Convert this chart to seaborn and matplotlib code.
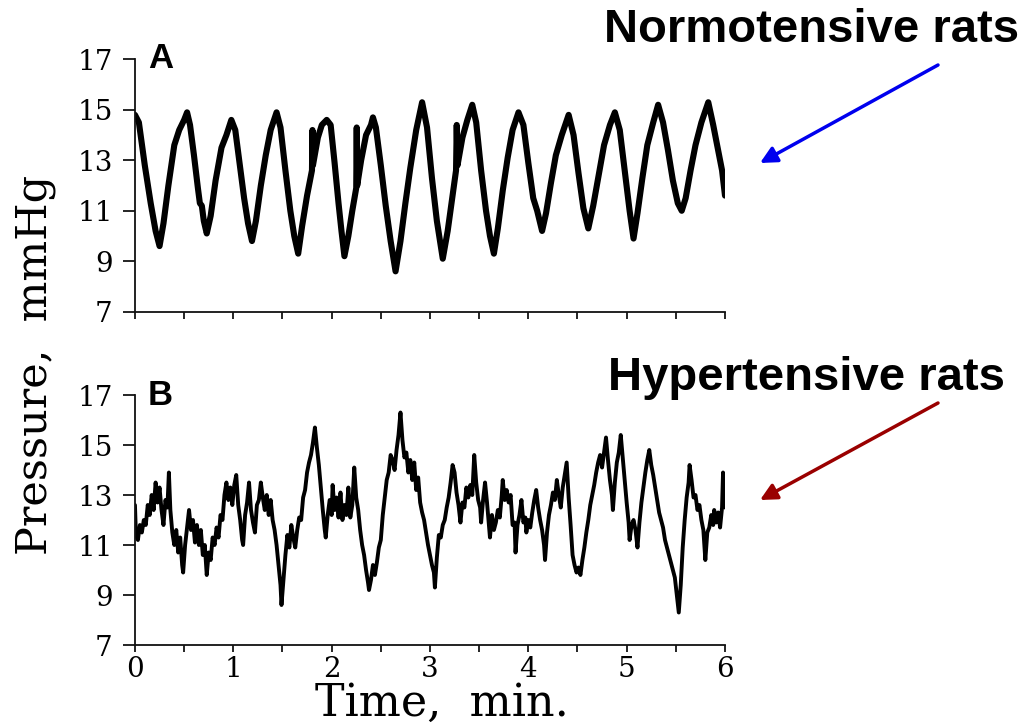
import numpy as np
import pandas as pd
import seaborn as sns
import matplotlib
matplotlib.use("Agg")
import matplotlib.pyplot as plt

# Panel A: normotensive rats, pressure (mmHg) vs time (min)
time_a = [0.00, 0.04, 0.10, 0.16, 0.21, 0.25, 0.29, 0.34, 0.40, 0.45, 0.50, 0.53, 0.56, 0.60,
          0.64, 0.66, 0.68, 0.70, 0.73, 0.77, 0.82, 0.88, 0.93, 0.98, 1.02, 1.06, 1.11, 1.15,
          1.19, 1.23, 1.28, 1.33, 1.38, 1.44, 1.48, 1.53, 1.58, 1.62, 1.66, 1.70, 1.75, 1.80,
          1.805, 1.81, 1.86, 1.90, 1.95, 1.99, 2.03, 2.07, 2.10, 2.13, 2.17, 2.21, 2.25, 2.255,
          2.26, 2.30, 2.35, 2.40, 2.42, 2.45, 2.50, 2.55, 2.60, 2.65, 2.70, 2.75, 2.80, 2.86,
          2.92, 2.97, 3.02, 3.07, 3.13, 3.18, 3.23, 3.265, 3.272, 3.28, 3.33, 3.38, 3.43, 3.47,
          3.52, 3.57, 3.61, 3.65, 3.69, 3.74, 3.79, 3.84, 3.90, 3.95, 4.00, 4.05, 4.09, 4.14,
          4.18, 4.23, 4.28, 4.34, 4.41, 4.46, 4.51, 4.56, 4.61, 4.66, 4.71, 4.77, 4.83, 4.88,
          4.93, 4.98, 5.03, 5.07, 5.11, 5.16, 5.21, 5.27, 5.32, 5.37, 5.42, 5.47, 5.52, 5.56,
          5.60, 5.65, 5.70, 5.76, 5.83, 5.88, 5.93, 5.97, 6.00]
pressure_a = [14.8, 14.5, 12.8, 11.3, 10.2, 9.6, 10.5, 12.0, 13.6, 14.2, 14.6, 14.9, 14.4, 13.2,
              11.9, 11.3, 11.2, 10.6, 10.1, 10.8, 12.2, 13.5, 14.0, 14.6, 14.2, 13.0, 11.5, 10.5,
              9.8, 10.6, 12.0, 13.2, 14.2, 14.9, 14.3, 12.6, 11.0, 10.0, 9.3, 10.4, 11.6, 12.6,
              14.2, 12.8, 13.9, 14.4, 14.6, 14.4, 12.9, 11.3, 10.2, 9.2, 10.0, 11.0, 11.9, 14.3,
              12.0, 13.0, 14.0, 14.4, 14.7, 14.3, 12.8, 11.2, 9.8, 8.6, 9.8, 11.3, 12.7, 14.2,
              15.3, 14.3, 12.3, 10.6, 9.1, 10.2, 11.6, 12.6, 14.4, 12.8, 13.9, 14.6, 15.2, 14.5,
              12.6, 11.0, 10.0, 9.3, 10.3, 11.8, 13.1, 14.2, 14.9, 14.4, 12.9, 11.5, 11.0, 10.2,
              10.9, 12.1, 13.2, 14.0, 14.8, 14.0, 12.5, 11.1, 10.3, 11.2, 12.3, 13.6, 14.4, 14.9,
              14.2, 12.6, 11.0, 9.9, 10.9, 12.3, 13.6, 14.5, 15.2, 14.5, 13.4, 12.2, 11.3, 11.0,
              11.5, 12.6, 13.6, 14.5, 15.3, 14.4, 13.4, 12.6, 11.6]

# Panel B: hypertensive rats
time_b = [0.00, 0.01, 0.03, 0.05, 0.07, 0.09, 0.11, 0.13, 0.15, 0.17, 0.19, 0.21, 0.23, 0.25,
          0.27, 0.29, 0.31, 0.33, 0.345, 0.36, 0.38, 0.40, 0.42, 0.44, 0.46, 0.48, 0.49, 0.51,
          0.53, 0.55, 0.57, 0.59, 0.61, 0.63, 0.65, 0.67, 0.69, 0.71, 0.73, 0.75, 0.77, 0.79,
          0.81, 0.83, 0.85, 0.87, 0.89, 0.91, 0.93, 0.95, 0.97, 0.99, 1.01, 1.03, 1.05, 1.07,
          1.09, 1.10, 1.12, 1.14, 1.16, 1.18, 1.20, 1.22, 1.24, 1.26, 1.28, 1.30, 1.32, 1.34,
          1.36, 1.38, 1.40, 1.42, 1.44, 1.46, 1.48, 1.49, 1.51, 1.53, 1.55, 1.57, 1.59, 1.61,
          1.63, 1.65, 1.67, 1.69, 1.71, 1.73, 1.75, 1.77, 1.79, 1.81, 1.83, 1.85, 1.87, 1.89,
          1.91, 1.93, 1.94, 1.96, 1.98, 2.00, 2.01, 2.03, 2.05, 2.07, 2.09, 2.11, 2.13, 2.15,
          2.17, 2.19, 2.21, 2.23, 2.25, 2.27, 2.29, 2.31, 2.33, 2.35, 2.37, 2.38, 2.40, 2.42,
          2.44, 2.46, 2.48, 2.50, 2.52, 2.54, 2.56, 2.58, 2.60, 2.62, 2.64, 2.66, 2.68, 2.70,
          2.72, 2.74, 2.76, 2.78, 2.80, 2.82, 2.84, 2.86, 2.88, 2.90, 2.92, 2.94, 2.96, 2.98,
          3.00, 3.02, 3.04, 3.05, 3.07, 3.09, 3.11, 3.13, 3.15, 3.17, 3.19, 3.21, 3.23, 3.25,
          3.27, 3.29, 3.31, 3.33, 3.35, 3.37, 3.39, 3.41, 3.43, 3.45, 3.47, 3.49, 3.51, 3.52,
          3.54, 3.56, 3.58, 3.60, 3.61, 3.63, 3.65, 3.67, 3.69, 3.71, 3.73, 3.74, 3.76, 3.78,
          3.80, 3.82, 3.84, 3.86, 3.87, 3.89, 3.91, 3.93, 3.95, 3.97, 3.98, 4.00, 4.02, 4.04,
          4.06, 4.08, 4.10, 4.12, 4.14, 4.16, 4.17, 4.19, 4.21, 4.23, 4.25, 4.27, 4.29, 4.31,
          4.33, 4.35, 4.37, 4.39, 4.41, 4.43, 4.45, 4.47, 4.49, 4.51, 4.53, 4.55, 4.57, 4.59,
          4.61, 4.63, 4.65, 4.67, 4.69, 4.71, 4.73, 4.75, 4.77, 4.79, 4.81, 4.83, 4.85, 4.86,
          4.88, 4.90, 4.92, 4.94, 4.96, 4.98, 5.00, 5.02, 5.03, 5.05, 5.07, 5.09, 5.11, 5.13,
          5.15, 5.17, 5.19, 5.21, 5.23, 5.25, 5.27, 5.29, 5.31, 5.33, 5.35, 5.37, 5.39, 5.41,
          5.43, 5.45, 5.47, 5.49, 5.51, 5.53, 5.55, 5.57, 5.59, 5.61, 5.63, 5.64, 5.66, 5.68,
          5.70, 5.72, 5.74, 5.76, 5.78, 5.80, 5.82, 5.84, 5.86, 5.88, 5.89, 5.91, 5.93, 5.95,
          5.97, 5.98, 6.00]
pressure_b = [12.6, 11.4, 11.2, 11.8, 11.5, 12.0, 11.8, 12.6, 12.2, 13.0, 12.4, 13.5, 12.7, 13.3,
              12.4, 11.8, 12.8, 12.5, 13.9, 12.4, 11.5, 11.0, 11.6, 10.7, 11.3, 10.2, 9.9, 11.0,
              11.7, 12.4, 11.6, 12.0, 11.1, 11.8, 11.0, 11.6, 10.6, 11.0, 9.8, 10.7, 10.4, 11.3,
              11.0, 11.7, 11.3, 12.2, 12.0, 13.0, 13.5, 12.8, 13.3, 12.6, 13.4, 13.8, 12.6, 12.0,
              11.2, 11.0, 12.2, 12.7, 13.5, 12.4, 11.9, 11.5, 12.6, 12.8, 13.5, 12.9, 12.4, 13.0,
              12.2, 12.8, 12.0, 11.6, 11.0, 10.2, 9.4, 8.6, 9.6, 10.6, 11.4, 10.9, 11.8, 11.3,
              10.9, 11.6, 12.1, 12.0, 12.9, 13.2, 13.9, 14.3, 14.6, 15.1, 15.7, 14.9, 14.2, 13.3,
              12.4, 11.6, 11.3, 12.2, 12.8, 12.2, 13.4, 12.4, 12.9, 12.1, 13.1, 12.0, 12.6, 12.2,
              13.3, 12.1, 12.6, 14.1, 12.9, 12.4, 11.6, 11.0, 10.6, 10.0, 9.5, 9.2, 9.6, 10.2,
              9.8, 10.3, 10.9, 11.2, 12.2, 12.9, 13.6, 13.9, 14.6, 14.4, 14.0, 14.8, 15.4, 16.3,
              15.2, 14.5, 14.7, 13.9, 14.4, 13.6, 14.3, 13.2, 13.7, 12.7, 12.3, 12.0, 11.5, 11.0,
              10.6, 10.2, 9.9, 9.3, 10.5, 11.4, 11.3, 11.8, 12.0, 12.5, 12.9, 13.5, 14.2, 13.9,
              13.1, 12.6, 11.9, 12.7, 12.5, 13.3, 12.9, 13.4, 13.0, 14.6, 13.5, 12.8, 12.5, 11.9,
              12.8, 13.5, 12.7, 11.8, 11.3, 12.2, 11.6, 11.9, 12.4, 12.1, 13.0, 13.6, 12.8, 13.2,
              12.7, 13.0, 11.8, 11.9, 10.7, 11.8, 12.2, 12.8, 11.9, 12.1, 11.5, 12.0, 11.7, 12.3,
              12.8, 13.2, 12.5, 12.0, 11.6, 11.0, 10.4, 11.5, 12.2, 12.6, 13.1, 12.8, 13.6, 13.0,
              12.5, 13.3, 13.8, 14.3, 12.9, 11.8, 10.6, 10.2, 9.9, 10.1, 9.8, 10.4, 10.9, 11.5,
              12.0, 12.6, 13.0, 13.4, 13.9, 14.3, 14.6, 14.1, 14.7, 15.3, 14.4, 13.6, 13.0, 12.4,
              13.5, 14.3, 14.7, 15.4, 14.5, 13.6, 12.7, 11.9, 11.2, 11.8, 12.0, 11.6, 10.9, 11.9,
              12.7, 13.3, 13.9, 14.4, 14.8, 14.2, 13.8, 13.3, 12.8, 12.3, 12.0, 11.7, 11.2, 10.9,
              10.6, 10.3, 10.0, 9.7, 9.0, 8.3, 9.4, 10.9, 12.0, 12.9, 13.5, 14.2, 13.6, 12.9,
              13.0, 12.4, 12.6, 12.0, 11.6, 10.4, 11.5, 11.7, 12.2, 11.8, 12.4, 11.9, 12.3, 11.7,
              12.5, 13.9, 12.5]

y_ticks = [7, 9, 11, 13, 15, 17]
x_ticks = [0, 0.5, 1, 1.5, 2, 2.5, 3, 3.5, 4, 4.5, 5, 5.5, 6]
x_labels = ["0", "", "1", "", "2", "", "3", "", "4", "", "5", "", "6"]

serif = ["DejaVu Serif"]
sans = ["Liberation Sans", "DejaVu Sans"]


def style_axis(ax, show_xlabels):
    ax.set_xlim(0, 6)
    ax.set_ylim(7, 17)
    ax.set_yticks(y_ticks)
    ax.set_yticklabels([str(v) for v in y_ticks], family=serif, fontsize=20)
    ax.set_xticks(x_ticks)
    if show_xlabels:
        ax.set_xticklabels(x_labels, family=serif, fontsize=20)
    else:
        ax.set_xticklabels([])
    ax.tick_params(axis="y", direction="out", length=9, width=1.2, pad=7, colors="black")
    ax.tick_params(axis="x", direction="out", length=5, width=1.2, pad=3, colors="black")
    ax.set_xlabel("")
    ax.set_ylabel("")
    for side in ["top", "right"]:
        ax.spines[side].set_visible(False)
    for side in ["left", "bottom"]:
        ax.spines[side].set_linewidth(1.3)
        ax.spines[side].set_color("#111111")


def main():
    sns.set_style("ticks")
    plt.rcParams["font.family"] = serif
    plt.rcParams["text.color"] = "black"

    df_a = pd.DataFrame({"time": time_a, "pressure": pressure_a})
    df_b = pd.DataFrame({"time": time_b, "pressure": pressure_b})

    fig = plt.figure(figsize=(10.31, 7.28), dpi=100)
    ax_a = fig.add_axes([0.1309, 0.5718, 0.5723, 0.3467])
    ax_b = fig.add_axes([0.1309, 0.1140, 0.5723, 0.3434])

    sns.lineplot(data=df_a, x="time", y="pressure", ax=ax_a, color="black",
                 linewidth=4.4, estimator=None, sort=False)
    sns.lineplot(data=df_b, x="time", y="pressure", ax=ax_b, color="black",
                 linewidth=2.8, estimator=None, sort=False)
    style_axis(ax_a, False)
    style_axis(ax_b, True)

    # panel letters
    fig.text(148 / 1031, 1 - 68 / 728, "A", family=sans, fontweight="bold", fontsize=25)
    fig.text(148 / 1031, 1 - 405 / 728, "B", family=sans, fontweight="bold", fontsize=25)

    # axis titles
    fig.text(35 / 1031, 1 - 365 / 728, "Pressure,  mmHg", family=serif, fontsize=31,
             rotation=90, ha="center", va="center")
    fig.text(442 / 1031, 1 - 703 / 728, "Time,  min.", family=serif, fontsize=32,
             ha="center", va="center")

    # annotations
    fig.text(812 / 1031, 1 - 30 / 728, "Normotensive rats", family=sans, fontweight="bold",
             fontsize=34, ha="center", va="center")
    fig.text(806 / 1031, 1 - 378 / 728, "Hypertensive rats", family=sans, fontweight="bold",
             fontsize=34, ha="center", va="center")
    fig.add_artist(plt.Annotation("", xy=(760 / 1031, 1 - 163 / 728),
                                  xytext=(938 / 1031, 1 - 65 / 728),
                                  xycoords="figure fraction", textcoords="figure fraction",
                                  arrowprops=dict(arrowstyle="-|>", color="#0000ee", lw=2.5,
                                                  mutation_scale=25, shrinkA=0, shrinkB=0)))
    fig.add_artist(plt.Annotation("", xy=(760 / 1031, 1 - 500 / 728),
                                  xytext=(938 / 1031, 1 - 403 / 728),
                                  xycoords="figure fraction", textcoords="figure fraction",
                                  arrowprops=dict(arrowstyle="-|>", color="#9a0000", lw=2.5,
                                                  mutation_scale=25, shrinkA=0, shrinkB=0)))

    fig.savefig("out.png", dpi=100, facecolor="white")


if __name__ == "__main__":
    main()
